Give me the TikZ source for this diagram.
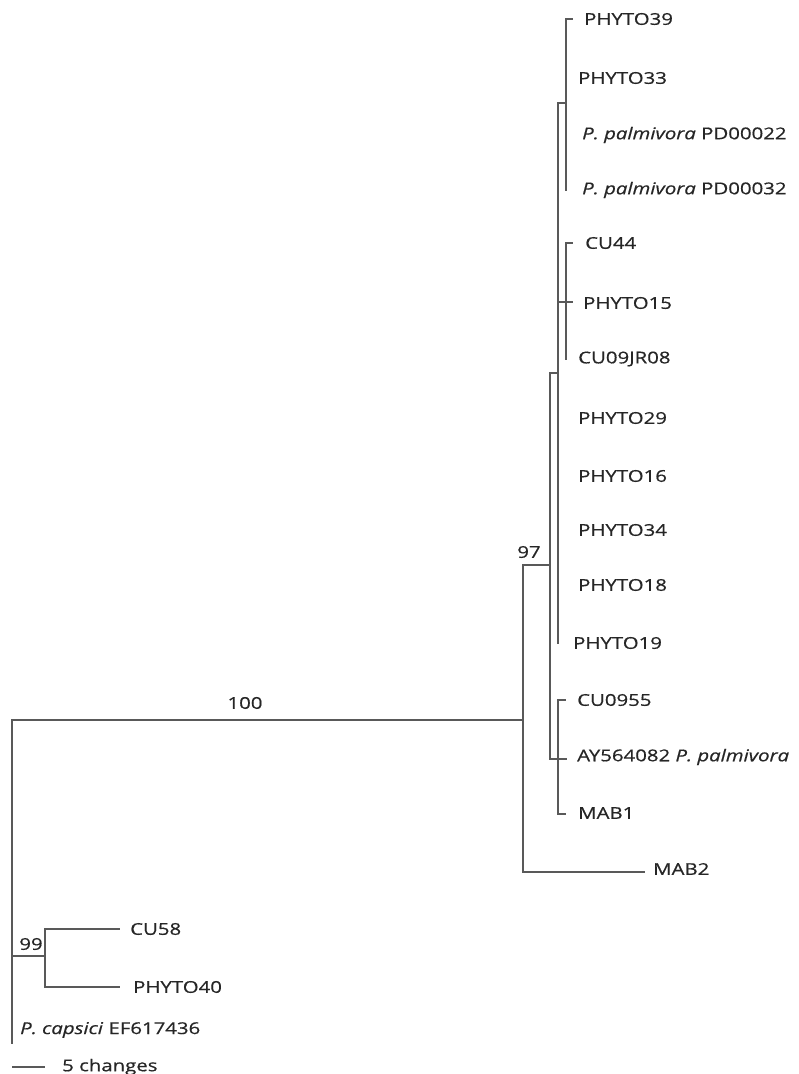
\documentclass[tikz,border=0pt]{standalone}
\usepackage{fontspec}
\setmainfont[FakeStretch=1.25,FakeBold=0.6]{Open Sans}
\begin{document}
\begin{tikzpicture}[x=1pt,y=-1pt,
  br/.style={draw=black!65,line width=2pt,line cap=rect},
  lab/.style={anchor=west,inner sep=0pt,text=black!85,font=\fontsize{16.3}{19}\selectfont},
  bs/.style={inner sep=0pt,text=black!85,font=\fontsize{16.3}{19}\selectfont}]
\useasboundingbox (0,0) rectangle (799,1074);
% coordinates
\coordinate (rt) at (12,720);
\coordinate (rb) at (12,1043);
\coordinate (a97) at (523,720);
\coordinate (t97) at (523,565);
\coordinate (b97) at (523,872);
\coordinate (m550) at (550,565);
\coordinate (t550) at (550,373);
\coordinate (b550) at (550,759);
\coordinate (m558) at (558,373);
\coordinate (t558) at (558,103);
\coordinate (b558) at (558,643);
\coordinate (mA) at (566,103);
\coordinate (tA) at (566,19);
\coordinate (bA) at (566,190);
\coordinate (p39) at (572,19);
\coordinate (mB0) at (558,302);
\coordinate (mB) at (566,302);
\coordinate (tB) at (566,243);
\coordinate (bB) at (566,359);
\coordinate (p15) at (572,302);
\coordinate (c44) at (572,243);
\coordinate (mC) at (558,759);
\coordinate (tC) at (558,700);
\coordinate (bC) at (558,814);
\coordinate (ay) at (566,759);
\coordinate (c955) at (565,700);
\coordinate (mab1) at (565,814);
\coordinate (mab2) at (644,872);
\coordinate (r99) at (12,956);
\coordinate (m99) at (45,956);
\coordinate (t99) at (45,929);
\coordinate (b99) at (45,987);
\coordinate (cu58) at (119,929);
\coordinate (ph40) at (119,987);
\coordinate (sbl) at (12,1067);
\coordinate (sbr) at (45,1067);
% branches
\draw[br] (rt) -- (rb);
\draw[br] (rt) -- (a97);
\draw[br] (t97) -- (b97);
\draw[br] (t97) -- (m550);
\draw[br] (t550) -- (b550);
\draw[br] (t550) -- (m558);
\draw[br] (t558) -- (b558);
\draw[br] (t558) -- (mA);
\draw[br] (tA) -- (bA);
\draw[br] (tA) -- (p39);
\draw[br] (mB0) -- (p15);
\draw[br] (tB) -- (bB);
\draw[br] (tB) -- (c44);
\draw[br] (b550) -- (ay);
\draw[br] (tC) -- (bC);
\draw[br] (tC) -- (c955);
\draw[br] (bC) -- (mab1);
\draw[br] (b97) -- (mab2);
\draw[br] (r99) -- (m99);
\draw[br] (t99) -- (b99);
\draw[br] (t99) -- (cu58);
\draw[br] (b99) -- (ph40);
\draw[br,line cap=butt] (sbl) -- (sbr);
% labels
\node[lab] (L1) at (584,19) {PHYTO39};
\node[lab] (L2) at (578,78) {PHYTO33};
\node[lab] (L3) at (582,135) {\textit{P. palmivora} PD00022};
\node[lab] (L4) at (582,190) {\textit{P. palmivora} PD00032};
\node[lab] (L5) at (585,243) {CU44};
\node[lab] (L6) at (583,303) {PHYTO15};
\node[lab] (L7) at (578,359) {CU09JR08};
\node[lab] (L8) at (578,418) {PHYTO29};
\node[lab] (L9) at (578,476) {PHYTO16};
\node[lab] (L10) at (578,530) {PHYTO34};
\node[lab] (L11) at (578,585) {PHYTO18};
\node[lab] (L12) at (573,643) {PHYTO19};
\node[lab] (L13) at (577,700) {CU0955};
\node[lab] (L14) at (577,757) {AY564082 \textit{P. palmivora}};
\node[lab] (L15) at (578,813) {MAB1};
\node[lab] (L16) at (653,869) {MAB2};
\node[lab] (L17) at (130,929) {CU58};
\node[lab] (L18) at (133,987) {PHYTO40};
\node[lab] (L19) at (20,1030) {\textit{P. capsici} EF617436};
\node[lab] (L20) at (62,1067) {5 changes};
\node[bs] (s100) at (245,703) {100};
\node[bs] (s97) at (529,552) {97};
\node[bs] (s99) at (31,944) {99};
\end{tikzpicture}
\end{document}
